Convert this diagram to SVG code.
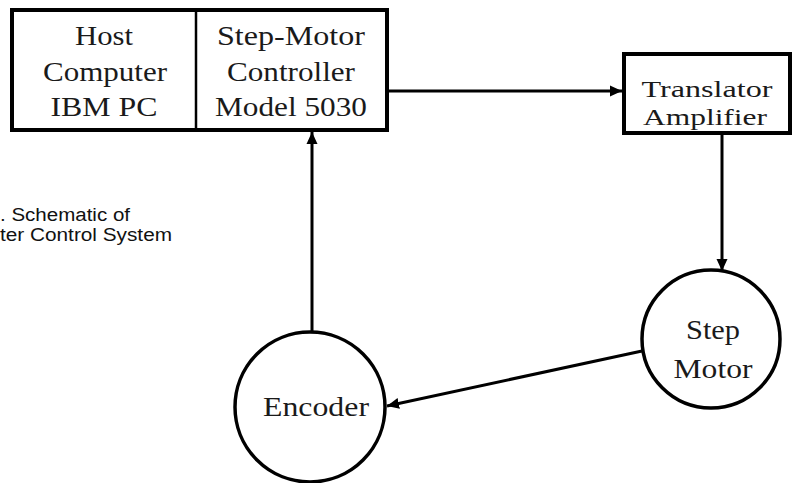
<svg xmlns="http://www.w3.org/2000/svg" width="793" height="483" viewBox="0 0 793 483">
  <style>
    .box { fill: #ffffff; stroke: #000000; stroke-width: 4; }
    .div { stroke: #000000; stroke-width: 2.5; fill: none; }
    .node { fill: #ffffff; stroke: #000000; stroke-width: 3.5; }
    .lbl { font-family: "Liberation Serif", "Times New Roman", serif; font-size: 27px; fill: #1a1a1a; text-anchor: middle; }
    .lbl.tight { font-size: 24px; }
    .cap { font-family: "Liberation Sans", Arial, sans-serif; font-size: 18px; fill: #111111; }
    .wire { stroke: #000000; stroke-width: 3; fill: none; marker-end: url(#head); }
  </style>
  <defs>
    <marker id="head" markerUnits="userSpaceOnUse" markerWidth="14" markerHeight="12" refX="12" refY="6" orient="auto">
      <path d="M0,0.5 L12,6 L0,11.5 Z" fill="#000000"/>
    </marker>
  </defs>

  <!-- caption fragment at left edge -->
  <text class="cap" x="0" y="221" textLength="130" lengthAdjust="spacingAndGlyphs">. Schematic of</text>
  <text class="cap" x="0" y="241" textLength="172" lengthAdjust="spacingAndGlyphs">ter Control System</text>

  <!-- host computer + controller double box -->
  <g id="host-controller">
    <rect class="box" x="12" y="10" width="375" height="120"/>
    <line class="div" x1="196" y1="10" x2="196" y2="130"/>
  </g>
  <g id="host">
    <text class="lbl" x="104" y="45" textLength="58" lengthAdjust="spacingAndGlyphs">Host</text>
    <text class="lbl" x="105" y="80.5" textLength="124" lengthAdjust="spacingAndGlyphs">Computer</text>
    <text class="lbl" x="104" y="116" textLength="107" lengthAdjust="spacingAndGlyphs">IBM PC</text>
  </g>
  <g id="controller">
    <text class="lbl" x="291" y="45" textLength="148" lengthAdjust="spacingAndGlyphs">Step-Motor</text>
    <text class="lbl" x="291" y="80.5" textLength="128" lengthAdjust="spacingAndGlyphs">Controller</text>
    <text class="lbl" x="291" y="116" textLength="152" lengthAdjust="spacingAndGlyphs">Model 5030</text>
  </g>

  <g id="translator">
    <rect class="box" x="624" y="54" width="166" height="79"/>
    <text class="lbl tight" x="707" y="97" textLength="131" lengthAdjust="spacingAndGlyphs">Translator</text>
    <text class="lbl tight" x="705" y="125" textLength="124" lengthAdjust="spacingAndGlyphs">Amplifier</text>
  </g>

  <g id="step-motor">
    <circle class="node" cx="711" cy="339" r="69"/>
    <text class="lbl" x="713" y="339" textLength="54" lengthAdjust="spacingAndGlyphs">Step</text>
    <text class="lbl" x="713" y="378" textLength="79" lengthAdjust="spacingAndGlyphs">Motor</text>
  </g>

  <g id="encoder">
    <circle class="node" cx="310" cy="407" r="75"/>
    <text class="lbl" x="316" y="416" textLength="106" lengthAdjust="spacingAndGlyphs">Encoder</text>
  </g>

  <g id="connectors">
    <line class="wire" x1="389" y1="91" x2="622" y2="91"/>
    <line class="wire" x1="722" y1="135" x2="722" y2="271"/>
    <line class="wire" x1="642" y1="351" x2="387" y2="406"/>
    <line class="wire" x1="312" y1="332" x2="312" y2="132"/>
  </g>
</svg>
